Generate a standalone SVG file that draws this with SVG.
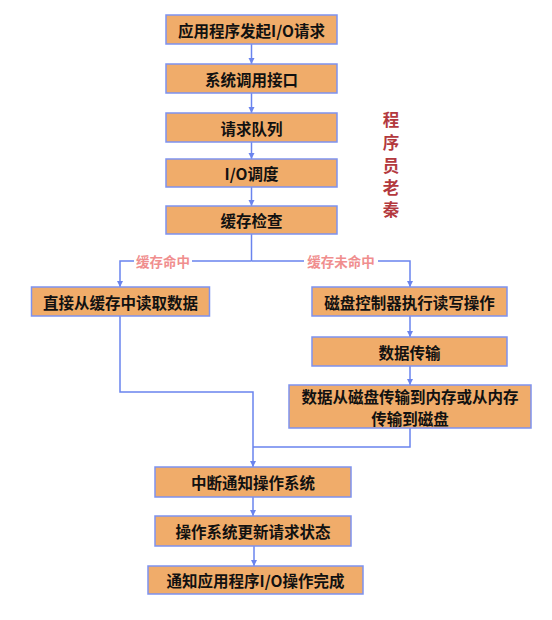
<svg xmlns="http://www.w3.org/2000/svg" width="552" height="620" viewBox="0 0 552 620">
<style>
.box{fill:#f0ac6a;stroke:#7d92f0;stroke-width:1.5}
.t{font-family:"Noto Sans CJK SC","Liberation Sans",sans-serif;font-size:15.5px;font-weight:bold;fill:#111;text-anchor:middle;dominant-baseline:central}
.c{fill:none;stroke:#6a84ee;stroke-width:1.5}
.lbl{font-family:"Noto Sans CJK SC","Liberation Sans",sans-serif;font-size:13.5px;font-weight:bold;fill:#f08e8e;text-anchor:middle;dominant-baseline:central}
.side{font-family:"Noto Sans CJK SC","Liberation Sans",sans-serif;font-size:16.5px;font-weight:bold;fill:#b3393e;text-anchor:middle;dominant-baseline:central}
</style>
<defs>
<marker id="ah" viewBox="0 0 10 10" refX="10" refY="5" markerWidth="6.5" markerHeight="8" markerUnits="userSpaceOnUse" orient="auto">
<path d="M0,0 L10,5 L0,10 z" fill="#6a84ee"/>
</marker>
</defs>
<rect width="552" height="620" fill="#fff"/>
<g id="connectors">
<path class="c" d="M251.5,44 V64" marker-end="url(#ah)"/>
<path class="c" d="M251.5,93 V113" marker-end="url(#ah)"/>
<path class="c" d="M251.5,142 V159" marker-end="url(#ah)"/>
<path class="c" d="M251.5,187 V206" marker-end="url(#ah)"/>
<path class="c" d="M251.5,234 V261"/>
<path class="c" d="M251.5,261 H120 V287" marker-end="url(#ah)"/>
<path class="c" d="M251.5,261 H410 V287" marker-end="url(#ah)"/>
<path class="c" d="M410,316 V337" marker-end="url(#ah)"/>
<path class="c" d="M410,366 V385" marker-end="url(#ah)"/>
<path class="c" d="M120,316 V392 H253 V467" marker-end="url(#ah)"/>
<path class="c" d="M410,428 V447 H253"/>
<path class="c" d="M253,497 V516" marker-end="url(#ah)"/>
<path class="c" d="M254,546 V566" marker-end="url(#ah)"/>
<rect x="134" y="253" width="58" height="16" fill="#fff"/>
<text class="lbl" x="163" y="261">缓存命中</text>
<rect x="304" y="253" width="74" height="16" fill="#fff"/>
<text class="lbl" x="341" y="261">缓存未命中</text>
</g>
<g id="n1"><rect class="box" x="166" y="15" width="171" height="29"/><text class="t" x="251.5" y="29.5">应用程序发起I/O请求</text></g>
<g id="n2"><rect class="box" x="166" y="64" width="171" height="29"/><text class="t" x="251.5" y="78.5">系统调用接口</text></g>
<g id="n3"><rect class="box" x="166" y="113" width="171" height="29"/><text class="t" x="251.5" y="127.5">请求队列</text></g>
<g id="n4"><rect class="box" x="166" y="159" width="171" height="28"/><text class="t" x="251.5" y="173">I/O调度</text></g>
<g id="n5"><rect class="box" x="166" y="206" width="171" height="28"/><text class="t" x="251.5" y="220">缓存检查</text></g>
<g id="n6"><rect class="box" x="31.5" y="287" width="178" height="29"/><text class="t" x="120.5" y="301.5">直接从缓存中读取数据</text></g>
<g id="n7"><rect class="box" x="312" y="287" width="195" height="29"/><text class="t" x="409.5" y="301.5">磁盘控制器执行读写操作</text></g>
<g id="n8"><rect class="box" x="312" y="337" width="195" height="29"/><text class="t" x="409.5" y="351.5">数据传输</text></g>
<g id="n9"><rect class="box" x="289" y="385" width="242" height="43"/><text class="t" x="410" y="396">数据从磁盘传输到内存或从内存</text><text class="t" x="410" y="417.5">传输到磁盘</text></g>
<g id="n10"><rect class="box" x="155" y="467" width="196" height="30"/><text class="t" x="253" y="482">中断通知操作系统</text></g>
<g id="n11"><rect class="box" x="155" y="516" width="196" height="30"/><text class="t" x="253" y="531">操作系统更新请求状态</text></g>
<g id="n12"><rect class="box" x="148" y="566" width="215" height="28"/><text class="t" x="255.5" y="580">通知应用程序I/O操作完成</text></g>
<g id="side">
<text class="side" x="391" y="119">程</text>
<text class="side" x="391" y="142">序</text>
<text class="side" x="391" y="165">员</text>
<text class="side" x="391" y="187">老</text>
<text class="side" x="391" y="209">秦</text>
</g>
</svg>
